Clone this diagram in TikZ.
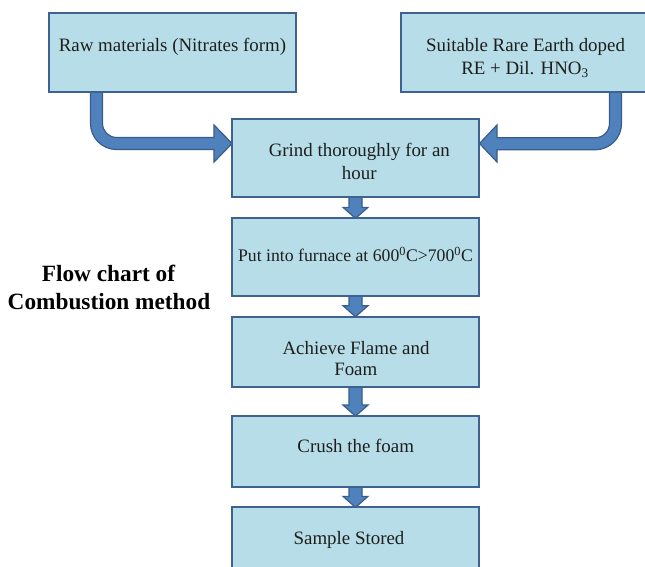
\documentclass[tikz,border=0pt]{standalone}
\usepackage{fontspec}
\setmainfont{Liberation Serif}
\usetikzlibrary{calc,backgrounds}
\definecolor{boxfill}{HTML}{B7DEE8}
\definecolor{boxline}{HTML}{3F6391}
\definecolor{arrowfill}{HTML}{4F81BD}
\definecolor{arrowline}{HTML}{385D8A}
\definecolor{txtcol}{HTML}{1E1E1E}
\newcommand\flowdown[2]{%
  \draw[blockarrow] ($(#1.south)+(-6.5,0)$) -- ($(#2.north)+(-6.5,11)$) -- ($(#2.north)+(-12.5,11)$) -- (#2.north)
    -- ($(#2.north)+(12.5,11)$) -- ($(#2.north)+(6.5,11)$) -- ($(#1.south)+(6.5,0)$) -- cycle;}
\begin{document}
\begin{tikzpicture}[x=1pt,y=1pt,
  flowbox/.style={draw=boxline, fill=boxfill, line width=1.8pt, minimum width=247.6pt, inner sep=0pt, outer sep=0pt},
  txt/.style={anchor=base, inner sep=0pt, text=txtcol, font=\fontsize{18.9}{22.7}\selectfont},
  title/.style={anchor=base, inner sep=0pt, text=black, font=\fontsize{23.3}{27}\selectfont\bfseries},
  blockarrow/.style={fill=arrowfill, draw=arrowline, line width=1.2pt, line join=miter}]
\useasboundingbox (0,0) rectangle (645,-567);

% boxes
\node[flowbox, minimum height=78.4pt] (raw) at (172.5,-52.5) {};
\node[flowbox, minimum height=78.4pt, minimum width=248.4pt] (rare) at (525,-52.5) {};
\node[flowbox, minimum height=78pt] (grind) at (355.5,-158.3) {};
\node[flowbox, minimum height=77.7pt] (put) at (355.5,-257.2) {};
\node[flowbox, minimum height=70.6pt] (achieve) at (355.5,-352) {};
\node[flowbox, minimum height=70.7pt] (crush) at (355.5,-451.4) {};
\node[flowbox, minimum height=70.7pt] (sample) at (355.5,-542.7) {};

% page background and arrows (behind boxes)
\begin{pgfonlayer}{background}
\fill[white] (0,0) rectangle (645,-567);
\draw[blockarrow] (102.5,-92) -- (90.5,-92) -- (90.5,-123.5) arc[start angle=180,end angle=270,radius=26]
  -- (214,-149.5) -- (214,-162) -- (232,-143.5) -- (214,-125) -- (214,-137.5) -- (116.5,-137.5)
  arc[start angle=270,end angle=180,radius=14] -- cycle;
\draw[blockarrow] (609.5,-92) -- (621.5,-92) -- (621.5,-123.5) arc[start angle=0,end angle=-90,radius=26.25]
  -- (497,-149.75) -- (497,-162) -- (479.5,-143.5) -- (497,-125) -- (497,-137.75) -- (595.25,-137.75)
  arc[start angle=-90,end angle=0,radius=14.25] -- cycle;
\flowdown{grind}{put}
\flowdown{put}{achieve}
\flowdown{achieve}{crush}
\flowdown{crush}{sample}
\end{pgfonlayer}

% texts
\node[txt] (rawt) at (172.5,-51.7) {Raw materials (Nitrates form)};
\node[txt] (raret1) at (525.5,-51.7) {Suitable Rare Earth doped};
\node[txt] (raret2) at (525,-74.3) {RE + Dil. HNO\textsubscript{3}};
\node[txt] (grindt1) at (359.3,-156.7) {Grind thoroughly for an};
\node[txt] (grindt2) at (359.3,-179) {hour};
\node[txt, font=\fontsize{17.7}{21}\selectfont] (putt) at (355.5,-261.7) {Put into furnace at 600\textsuperscript{0}C>700\textsuperscript{0}C};
\node[txt] (achievet1) at (356,-354) {Achieve Flame and};
\node[txt] (achievet2) at (355.8,-375.7) {Foam};
\node[txt] (crusht) at (355.7,-452.7) {Crush the foam};
\node[txt] (samplet) at (349,-544) {Sample Stored};

\node[title] (title1) at (108.5,-281.7) {Flow chart of};
\node[title] (title2) at (109,-309) {Combustion method};
\end{tikzpicture}
\end{document}
